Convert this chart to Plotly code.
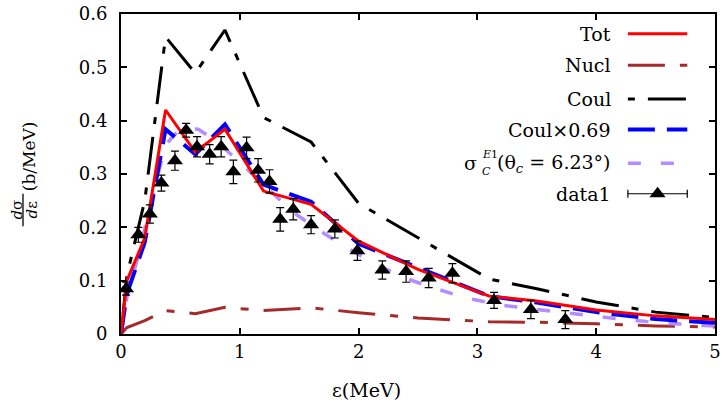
import plotly.graph_objects as go

# ---------------- data ----------------
grid_x = [0, 0.05, 0.2, 0.375, 0.625, 0.875, 1.2, 1.6, 2.0, 2.5, 3.1, 3.5, 4.0, 4.5, 5.0]
tot_y = [0, 0.10, 0.18, 0.42, 0.341, 0.384, 0.268, 0.243, 0.174, 0.121, 0.071, 0.062, 0.045, 0.034, 0.027]
nucl_y = [0, 0.012, 0.025, 0.044, 0.038, 0.050, 0.044, 0.049, 0.040, 0.030, 0.023, 0.022, 0.019, 0.015, 0.013]
coul_y = [0, 0.11, 0.25, 0.557, 0.489, 0.570, 0.406, 0.360, 0.245, 0.180, 0.103, 0.085, 0.060, 0.041, 0.031]
coul069_y = [0, 0.076, 0.172, 0.384, 0.337, 0.393, 0.280, 0.248, 0.169, 0.124, 0.071, 0.059, 0.041, 0.028, 0.021]

sig_x = [0, 0.05, 0.15, 0.25, 0.375, 0.5, 0.65, 0.8, 1.0, 1.2, 1.45, 1.7, 1.9, 2.15, 2.4, 2.65, 2.9, 3.2, 3.5, 3.8, 4.2, 4.6, 5.0]
sig_y = [0, 0.07, 0.15, 0.245, 0.355, 0.385, 0.384, 0.362, 0.322, 0.28, 0.228, 0.19, 0.162, 0.13, 0.104, 0.085, 0.068, 0.054, 0.046, 0.038, 0.028, 0.02, 0.015]

data_x = [0.043, 0.146, 0.243, 0.34, 0.454, 0.548, 0.64, 0.746, 0.843, 0.946, 1.057, 1.154, 1.25,
          1.34, 1.45, 1.6, 1.8, 1.99, 2.2, 2.4, 2.59, 2.79, 3.14, 3.45, 3.74]
data_y = [0.085, 0.186, 0.225, 0.283, 0.325, 0.382, 0.351, 0.337, 0.351, 0.304, 0.349, 0.307, 0.286,
          0.215, 0.234, 0.205, 0.197, 0.156, 0.120, 0.117, 0.105, 0.114, 0.063, 0.046, 0.027]
data_err = [0.012, 0.014, 0.017, 0.015, 0.018, 0.013, 0.019, 0.018, 0.019, 0.022, 0.020, 0.022, 0.022,
            0.022, 0.020, 0.017, 0.017, 0.018, 0.017, 0.020, 0.018, 0.018, 0.015, 0.017, 0.017]

x_ticks = [0, 1, 2, 3, 4, 5]
y_ticks = [0, 0.1, 0.2, 0.3, 0.4, 0.5, 0.6]
y_tick_text = ["0", "0.1", "0.2", "0.3", "0.4", "0.5", "0.6"]

legend_names = ["Tot", "Nucl", "Coul", "Coul×0.69", "(θ<sub><i>c</i></sub> = 6.23°)", "data1"]

# ---------------- style ----------------
FONT = "DejaVu Serif"
RED, BROWN, BLACK, BLUE, PURPLE = "#ff0000", "#a52a2a", "#000000", "#0000ff", "#b58cff"
DASH_COUL = "7px,13px,38px,13px"
DASH_NUCL = "37px,15px,8px,15px"
DASH_BLUE = "27px,12px"
DASH_PURP = "13px,20px"

W, H = 724, 408
L, R, T, B = 121, 3, 10, 74
PW, PH = W - L - R, H - T - B


def px(xp):
    return (xp - L) / PW


def py(yp):
    return (H - B - yp) / PH


fig = go.Figure()
fig.add_trace(go.Scatter(x=grid_x, y=nucl_y, mode="lines", line=dict(color=BROWN, width=3, dash=DASH_NUCL)))
fig.add_trace(go.Scatter(x=grid_x, y=coul_y, mode="lines", line=dict(color=BLACK, width=3, dash=DASH_COUL)))
fig.add_trace(go.Scatter(x=sig_x, y=sig_y, mode="lines", line=dict(color=PURPLE, width=3.5, dash=DASH_PURP)))
fig.add_trace(go.Scatter(x=grid_x, y=coul069_y, mode="lines", line=dict(color=BLUE, width=4, dash=DASH_BLUE)))
fig.add_trace(go.Scatter(x=grid_x, y=tot_y, mode="lines", line=dict(color=RED, width=3)))
fig.add_trace(go.Scatter(
    x=data_x, y=data_y, mode="markers",
    marker=dict(symbol="triangle-up", size=14, color=BLACK),
    error_y=dict(type="data", array=data_err, color=BLACK, thickness=1.2, width=4),
))

# ---------------- legend (gnuplot style: text left, sample right) ----------------
rows_y = [30, 62, 96, 127, 161, 192]
sx0, sx1 = 633, 693
text_right = 618
styles = [(RED, None, 3), (BROWN, DASH_NUCL, 3), (BLACK, DASH_COUL, 3), (BLUE, DASH_BLUE, 4), (PURPLE, DASH_PURP, 3.5)]
shapes = []
annotations = []
for i, name in enumerate(legend_names):
    yy = rows_y[i]
    annotations.append(dict(xref="paper", yref="paper", x=px(text_right), y=py(yy), text=name,
                            showarrow=False, xanchor="right", yanchor="middle",
                            font=dict(family=FONT, size=19, color="black")))
    if i < 5:
        c, d, w = styles[i]
        ln = dict(color=c, width=w)
        if d:
            ln["dash"] = d
        shapes.append(dict(type="line", xref="paper", yref="paper", x0=px(sx0), x1=px(sx1),
                           y0=py(yy), y1=py(yy), line=ln))
    else:
        shapes.append(dict(type="line", xref="paper", yref="paper", x0=px(sx0), x1=px(sx1),
                           y0=py(yy), y1=py(yy), line=dict(color="black", width=1.2)))
        for xc in (sx0, sx1):
            shapes.append(dict(type="line", xref="paper", yref="paper", x0=px(xc), x1=px(xc),
                               y0=py(yy - 4), y1=py(yy + 4), line=dict(color="black", width=1.2)))

# sigma with stacked sub/superscripts, left of "(θc = 6.23°)"
annotations.append(dict(xref="paper", yref="paper", x=px(483), y=py(161), text="σ",
                        showarrow=False, xanchor="right", yanchor="middle",
                        font=dict(family=FONT, size=19, color="black")))
annotations.append(dict(xref="paper", yref="paper", x=px(484), y=py(152), text="<i>E</i>1",
                        showarrow=False, xanchor="left", yanchor="middle",
                        font=dict(family=FONT, size=11, color="black")))
annotations.append(dict(xref="paper", yref="paper", x=px(484), y=py(169), text="<i>C</i>",
                        showarrow=False, xanchor="left", yanchor="middle",
                        font=dict(family=FONT, size=11, color="black")))

# legend triangle marker on overlay axes in paper units
fig.add_trace(go.Scatter(x=[px((sx0 + sx1) / 2)], y=[py(rows_y[5])], mode="markers",
                         marker=dict(symbol="triangle-up", size=14, color=BLACK),
                         xaxis="x2", yaxis="y2"))

# axis titles
annotations.append(dict(xref="paper", yref="paper", x=px(369), y=py(391), text="ε(MeV)",
                        showarrow=False, xanchor="center", yanchor="middle",
                        font=dict(family=FONT, size=19, color="black")))
annotations.append(dict(xref="paper", yref="paper", x=px(15), y=py(208), text="<i>d</i>σ",
                        showarrow=False, xanchor="center", yanchor="middle", textangle=-90,
                        font=dict(family=FONT, size=15, color="black")))
annotations.append(dict(xref="paper", yref="paper", x=px(31), y=py(208), text="<i>d</i>ε",
                        showarrow=False, xanchor="center", yanchor="middle", textangle=-90,
                        font=dict(family=FONT, size=15, color="black")))
shapes.append(dict(type="line", xref="paper", yref="paper", x0=px(22), x1=px(22),
                   y0=py(192), y1=py(225), line=dict(color="black", width=1.3)))
annotations.append(dict(xref="paper", yref="paper", x=px(28), y=py(154), text="(b/MeV)",
                        showarrow=False, xanchor="center", yanchor="middle", textangle=-90,
                        font=dict(family=FONT, size=17, color="black")))

axis_common = dict(showline=True, linecolor="black", linewidth=2, mirror="ticks", ticks="inside",
                   ticklen=6, tickwidth=1.5, tickcolor="black", showgrid=False, zeroline=False,
                   ticklabeloverflow="allow",
                   tickfont=dict(family=FONT, size=18, color="black"))

fig.update_layout(
    width=W, height=H,
    margin=dict(l=L, r=R, t=T, b=B),
    paper_bgcolor="white", plot_bgcolor="white",
    showlegend=False,
    font=dict(family=FONT),
    xaxis=dict(range=[0, 5], tickvals=x_ticks, ticktext=[str(v) for v in x_ticks], **axis_common),
    yaxis=dict(range=[0, 0.6], tickvals=y_ticks, ticktext=y_tick_text, ticklabelstandoff=8, **axis_common),
    xaxis2=dict(overlaying="x", range=[0, 1], visible=False),
    yaxis2=dict(overlaying="y", range=[0, 1], visible=False),
    shapes=shapes,
    annotations=annotations,
)

fig.write_html("out.html")
